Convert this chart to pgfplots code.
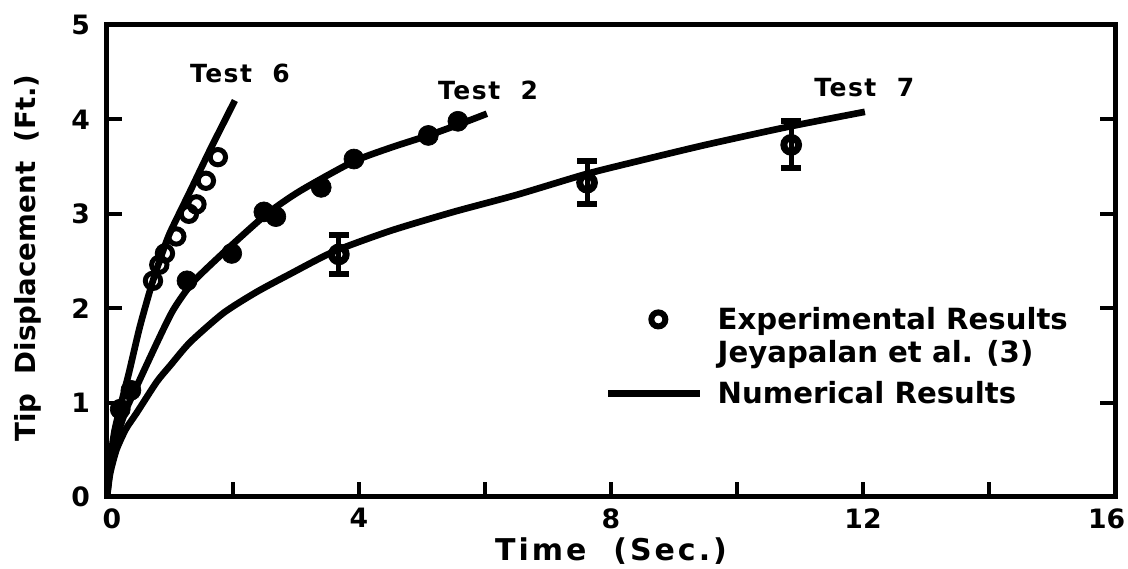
\documentclass[border=0pt]{standalone}
\usepackage{fontspec}
\setmainfont{DejaVu Sans}
\newfontfamily\widefont{DejaVu Sans}[LetterSpace=10]
\newfontfamily\semiwide{DejaVu Sans}[LetterSpace=6]
\usepackage{pgfplots}
\pgfplotsset{compat=1.18}
\pgfplotsset{
  circlegend/.style={legend image code/.code={\draw[mark repeat=2,mark phase=2,##1] plot coordinates {(0pt,6pt) (30pt,6pt) (55pt,6pt)};}},
  linelegend/.style={legend image code/.code={\draw[##1] (0pt,6pt) -- (55pt,6pt);}},
}
\begin{document}
\begin{tikzpicture}
\begin{axis}[
  name=ax,
  scale only axis,
  width=604.8pt, height=283.2pt,
  xmin=0, xmax=16, ymin=0, ymax=5,
  axis line style={line width=3pt},
  xtick={0,4,8,12,16},
  xticklabels={{\kern6pt 0},4,8,12,{16\kern10pt}},
  minor xtick={2,6,10,14},
  ytick={0,1,2,3,4,5},
  xtick pos=lower, ytick pos=both, yticklabel pos=left,
  tick align=inside,
  major tick length=9pt, minor tick length=9pt,
  tick style={line width=2.4pt, black},
  /pgf/number format/assume math mode=true,
  ticklabel style={font=\bfseries\fontsize{16}{16}\selectfont, inner sep=0pt},
  xticklabel style={anchor=north, yshift=-6.6pt},
  yticklabel style={anchor=east, xshift=-10pt},
  xlabel={Time\ \ (Sec.)},
  ylabel={Tip\ \ Displacement\ \ (Ft.)},
  x label style={at={(axis description cs:0.5,0)}, anchor=center, yshift=-32.4pt, font=\widefont\bfseries\fontsize{18}{18}\selectfont},
  y label style={at={(axis description cs:-0.0784,0.506)}, anchor=center, rotate=0, font=\bfseries\fontsize{16.6}{16.6}\selectfont},
  legend style={at={(axis cs:7.905,2.04)}, anchor=north west, draw=none, fill=none,
    inner sep=0pt, outer sep=0pt, column sep=6.6pt, row sep=1.6pt,
    cells={anchor=base west, inner sep=0pt, text height=13pt, text depth=4pt},
    font=\bfseries\fontsize{17.5}{17.5}\selectfont},
]
% legend entries
\addlegendimage{only marks, mark=o, mark size=4.2pt, mark options={fill=white, line width=3.6pt}, circlegend}
\addlegendentry{Experimental Results}
\addlegendimage{empty legend}
\addlegendentry{Jeyapalan et al. (3)}
\addlegendimage{line width=4pt, linelegend}
\addlegendentry[text height=17.2pt]{Numerical Results}

% Numerical curves
\addplot[forget plot, line width=4pt, smooth, tension=0.4] coordinates {
(0,0) (0.05,0.38) (0.12,0.7) (0.22,0.98) (0.35,1.32) (0.52,1.8) (0.71,2.25)
(0.87,2.57) (1.0,2.8) (1.32,3.24) (1.63,3.67) (2.03,4.2)};
\addplot[forget plot, line width=4pt, smooth, tension=0.4] coordinates {
(0,0) (0.05,0.3) (0.15,0.62) (0.3,0.92) (0.47,1.17) (0.79,1.63) (1.05,1.98)
(1.37,2.28) (1.95,2.65) (2.54,3.0) (3.06,3.24) (3.9,3.55) (4.5,3.7) (5.1,3.83)
(5.6,3.95) (6.03,4.06)};
\addplot[forget plot, line width=4pt, smooth, tension=0.4] coordinates {
(0,0) (0.05,0.25) (0.15,0.5) (0.3,0.72) (0.47,0.89) (0.79,1.22) (1.0,1.39)
(1.32,1.64) (1.85,1.95) (2.37,2.17) (2.9,2.36) (3.6,2.6) (4.5,2.82) (5.5,3.02)
(6.5,3.2) (7.6,3.42) (8.5,3.57) (9.5,3.73) (10.8,3.92) (12.03,4.08)};

% Test 6 experimental (open circles)
\addplot[forget plot, only marks, mark=o, mark size=4.6pt, mark options={fill=white, line width=3pt}] coordinates {
(0.73,2.29) (0.83,2.46) (0.92,2.58) (1.1,2.76) (1.3,3.0) (1.42,3.1) (1.57,3.35) (1.76,3.6)};
% Test 2 experimental (filled circles)
\addplot[forget plot, only marks, mark=*, mark size=6pt] coordinates {
(0.21,0.93) (0.38,1.13) (1.27,2.29) (1.98,2.58) (2.49,3.02) (2.68,2.97) (3.40,3.28)
(3.92,3.58) (5.10,3.83) (5.57,3.98)};
% Test 7 experimental with error bars
\addplot[forget plot, only marks, mark=o, mark size=4.4pt, mark options={fill=white, line width=4.2pt},
  error bars/.cd, y dir=both, y explicit,
  error bar style={line width=3pt},
  error mark options={rotate=90, line width=3.6pt, mark size=6pt, black}]
  coordinates {
(3.68,2.57) +- (0,0.21)
(7.62,3.33) +- (0,0.23)
(10.86,3.73) +- (0,0.25)};

\node[font=\semiwide\bfseries\fontsize{15}{15}\selectfont] at (axis cs:2.11,4.49) {Test\ \ 6};
\node[font=\semiwide\bfseries\fontsize{15}{15}\selectfont] at (axis cs:6.05,4.31) {Test\ \ 2};
\node[font=\semiwide\bfseries\fontsize{15}{15}\selectfont] at (axis cs:12.02,4.34) {Test\ \ 7};
\end{axis}
\pgfresetboundingbox
\path (ax.south west) ++(-64.2pt,-43.2pt) rectangle ++(676.8pt,341.4pt);
\end{tikzpicture}
\end{document}
